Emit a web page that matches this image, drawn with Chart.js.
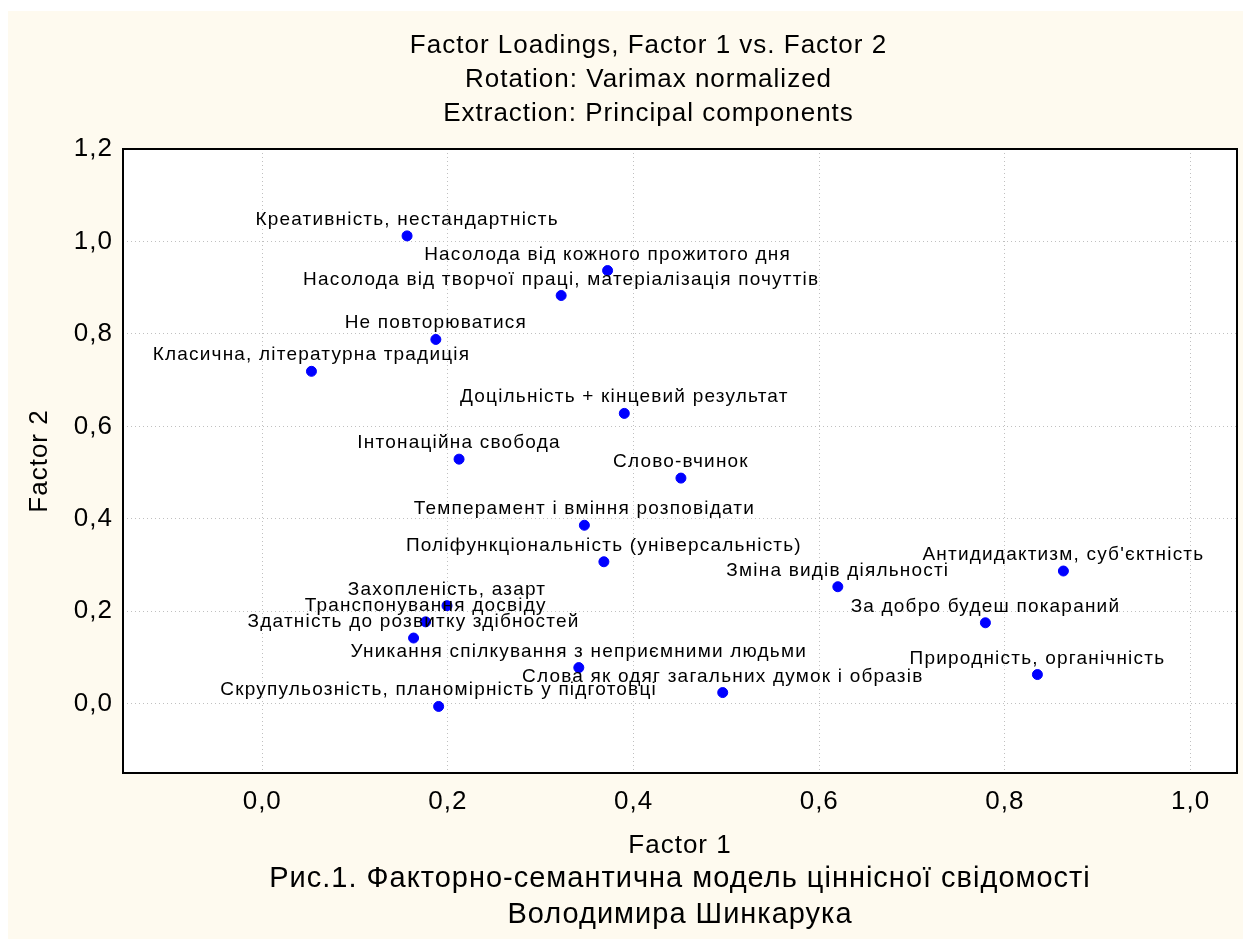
<!DOCTYPE html>
<html>
<head>
<meta charset="utf-8">
<script src="https://cdn.jsdelivr.net/npm/chart.js@4/dist/chart.umd.min.js"></script>
<style>
    html, body { margin: 0; padding: 0; background: #fff; }
    #wrap { position: absolute; left: 8px; top: 11px; width: 1235px; height: 928px; background: #fefaef; }
</style>
</head>
<body>
<div id="wrap"><canvas id="loadings_chart"></canvas></div>
<script>
// Data
var labels = [
    "Креативність, нестандартність",
    "Насолода від кожного прожитого дня",
    "Насолода від творчої праці, матеріалізація почуттів",
    "Не повторюватися",
    "Класична, літературна традиція",
    "Доцільність + кінцевий результат",
    "Інтонаційна свобода",
    "Слово-вчинок",
    "Темперамент і вміння розповідати",
    "Поліфункціональність (універсальність)",
    "Антидидактизм, суб'єктність",
    "Зміна видів діяльності",
    "За добро будеш покараний",
    "Захопленість, азарт",
    "Транспонування досвіду",
    "Здатність до розвитку здібностей",
    "Уникання спілкування з неприємними людьми",
    "Природність, органічність",
    "Слова як одяг загальних думок і образів",
    "Скрупульозність, планомірність у підготовці"
];
var factor1 = [0.156, 0.372, 0.322, 0.187, 0.053, 0.390, 0.212, 0.451, 0.347, 0.368,
               0.863, 0.620, 0.779, 0.199, 0.176, 0.163, 0.341, 0.835, 0.496, 0.190];
var factor2 = [1.012, 0.937, 0.883, 0.788, 0.719, 0.628, 0.529, 0.488, 0.386, 0.307,
               0.287, 0.253, 0.175, 0.212, 0.177, 0.142, 0.078, 0.063, 0.024, -0.006];
var xTicks = [0, 0.2, 0.4, 0.6, 0.8, 1.0];
var yTicks = [0, 0.2, 0.4, 0.6, 0.8, 1.0, 1.2];

var titleLines = [
    "Factor Loadings, Factor 1 vs. Factor 2",
    "Rotation: Varimax normalized",
    "Extraction: Principal components"
];
var captionLines = [
    "Рис.1. Факторно-семантична модель ціннісної свідомості",
    "Володимира Шинкарука"
];

var FONT = "'Liberation Sans', Arial, sans-serif";

function fmt(v) {
    return v.toFixed(1).replace(".", ",");
}

// Wide letter spacing, like the original renderer
var spacing = {
    id: "spacing",
    beforeUpdate: function (chart) { chart.ctx.letterSpacing = "1px"; },
    beforeDraw: function (chart) { chart.ctx.letterSpacing = "1px"; }
};

// White plot area
var plotBg = {
    id: "plotBg",
    beforeDraw: function (chart) {
        var a = chart.chartArea;
        var ctx = chart.ctx;
        ctx.save();
        ctx.fillStyle = "#fff";
        ctx.fillRect(a.left, a.top, a.right - a.left, a.bottom - a.top);
        ctx.restore();
    }
};

// Three-line heading, centred a bit left of the plot centre
var heading = {
    id: "heading",
    afterDraw: function (chart) {
        var ctx = chart.ctx;
        var cx = (chart.width + chart.chartArea.left * 0.4) / 2;
        ctx.save();
        ctx.font = "26px " + FONT;
        ctx.letterSpacing = "1px";
        ctx.fillStyle = "#000";
        ctx.textAlign = "center";
        ctx.textBaseline = "middle";
        titleLines.forEach(function (t, i) {
            ctx.fillText(t, cx, 35 + i * 34);
        });
        ctx.restore();
    }
};

// Labels above each point
var pointLabels = {
    id: "pointLabels",
    afterDatasetsDraw: function (chart) {
        var ctx = chart.ctx;
        var meta = chart.getDatasetMeta(0);
        ctx.save();
        ctx.font = "19px " + FONT;
        ctx.letterSpacing = "1.2px";
        ctx.fillStyle = "#000";
        ctx.textAlign = "center";
        ctx.textBaseline = "alphabetic";
        meta.data.forEach(function (pt, i) {
            ctx.fillText(labels[i], pt.x, pt.y - 11);
        });
        ctx.restore();
    }
};

// Black frame around plot area
var frame = {
    id: "frame",
    afterDraw: function (chart) {
        var a = chart.chartArea;
        var ctx = chart.ctx;
        ctx.save();
        ctx.strokeStyle = "#000";
        ctx.lineWidth = 2;
        ctx.strokeRect(a.left, a.top, a.right - a.left, a.bottom - a.top);
        ctx.restore();
    }
};

var points = factor1.map(function (x, i) {
    return { x: x, y: factor2[i] };
});

new Chart(document.getElementById("loadings_chart").getContext("2d"), {
    type: "scatter",
    data: {
        datasets: [{
            label: "Loadings",
            data: points,
            backgroundColor: "#0000ff",
            borderColor: "#0000ff",
            pointRadius: 5,
            pointHoverRadius: 5
        }]
    },
    options: {
        responsive: true,
        maintainAspectRatio: false,
        animation: false,
        layout: { padding: { top: 138, right: 0 } },
        plugins: {
            legend: { display: false },
            tooltip: { enabled: false },
            title: { display: false },
            subtitle: {
                display: true,
                position: "bottom",
                fullSize: false,
                text: captionLines,
                color: "#000",
                font: { family: FONT, size: 29, weight: "normal", lineHeight: 36 / 29 },
                padding: { top: 0, bottom: 6 }
            }
        },
        scales: {
            x: {
                type: "linear",
                min: -0.15,
                max: 1.05,
                afterBuildTicks: function (scale) {
                    scale.ticks = xTicks.map(function (v) { return { value: v }; });
                },
                afterFit: function (scale) { scale.height = 88; },
                ticks: {
                    color: "#000",
                    padding: 13,
                    font: { family: FONT, size: 26 },
                    callback: function (v) { return fmt(v); }
                },
                grid: { color: "#c0c0c0", lineWidth: 1, drawTicks: false },
                border: { display: false, dash: [1, 3] },
                title: {
                    display: true,
                    text: "Factor 1",
                    color: "#000",
                    font: { family: FONT, size: 26 },
                    padding: { top: 0, bottom: 0 }
                }
            },
            y: {
                type: "linear",
                min: -0.15,
                max: 1.2,
                afterBuildTicks: function (scale) {
                    scale.ticks = yTicks.map(function (v) { return { value: v }; });
                },
                afterFit: function (scale) { scale.width = 115; },
                ticks: {
                    color: "#000",
                    padding: 10,
                    font: { family: FONT, size: 26 },
                    callback: function (v) { return fmt(v); }
                },
                grid: { color: "#c0c0c0", lineWidth: 1, drawTicks: false },
                border: { display: false, dash: [1, 3] },
                title: {
                    display: true,
                    text: "Factor 2",
                    color: "#000",
                    font: { family: FONT, size: 26 },
                    padding: { top: 16, bottom: 0 }
                }
            }
        }
    },
    plugins: [spacing, plotBg, heading, pointLabels, frame]
});
</script>
</body>
</html>
